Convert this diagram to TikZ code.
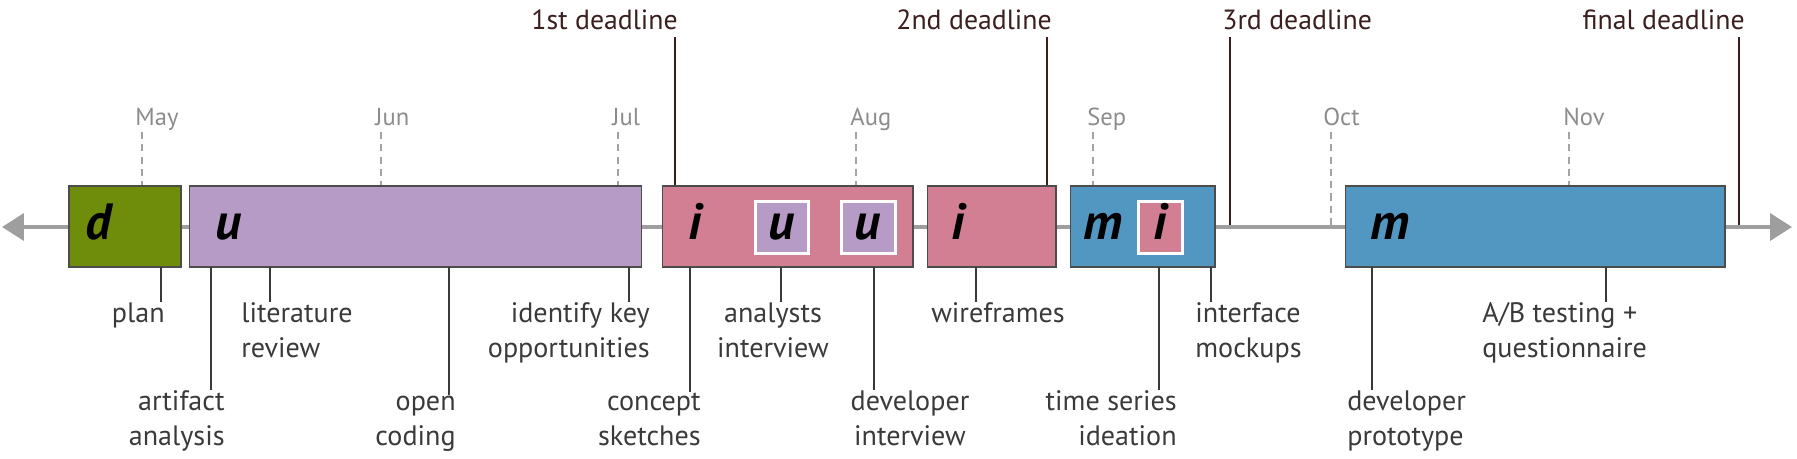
\documentclass[tikz,border=0pt]{standalone}
\usepackage{fontspec}
\setmainfont{PT Sans}
\usepackage{xcolor}
\usetikzlibrary{positioning, arrows.meta}

\definecolor{plangreen}{HTML}{6F8C0A}
\definecolor{understandpurple}{HTML}{B59BC6}
\definecolor{ideatepink}{HTML}{D27E93}
\definecolor{makeblue}{HTML}{5297C2}
\definecolor{deadlinebrown}{HTML}{3B1F1F}
\definecolor{axisgray}{HTML}{9E9E9E}
\definecolor{monthgray}{HTML}{8C8C8C}
\definecolor{labelgray}{HTML}{3A3A3A}

\begin{document}
\begin{tikzpicture}[
			x=0.02cm, y=-0.02cm,
			phase/.style={rectangle, draw=black!70, line width=0.6pt, minimum height=1.62cm, inner sep=0pt},
			subphase/.style={rectangle, draw=white, line width=1.7pt, minimum height=1.04cm, inner sep=0pt},
			letter/.style={font=\fontsize{29}{30}\selectfont\bfseries\itshape, anchor=base, inner sep=0pt},
			month/.style={font=\fontsize{14}{17}\selectfont, text=monthgray, anchor=base west, inner sep=0pt},
			monthtick/.style={draw=monthgray!80, line width=1.3pt, dash pattern=on 4pt off 3pt},
			deadline/.style={font=\fontsize{15.8}{18}\selectfont, text=deadlinebrown, inner sep=0pt},
			deadlineline/.style={draw=deadlinebrown, line width=1.5pt},
			timeaxis/.style={draw=axisgray, line width=2.2pt, {Triangle[length=0.44cm, width=0.54cm]}-{Triangle[length=0.44cm, width=0.54cm]}},
			tasklabel/.style={font=\fontsize{16}{19.8}\selectfont, text=labelgray, inner sep=0pt},
			leader/.style={draw=labelgray, line width=0.9pt}
			]
			\useasboundingbox (0,0) rectangle (1797,459);

			% Months
			\node (may) [month] at (135,126) {May};
			\node (jun) [month] at (375,126) {Jun};
			\node (jul) [month] at (612,126) {Jul};
			\node (aug) [month] at (850,126) {Aug};
			\node (sep) [month] at (1087,126) {Sep};
			\node (oct) [month] at (1323,126) {Oct};
			\node (nov) [month] at (1563,126) {Nov};
			\draw [monthtick] (142,132) -- (142,227);
			\draw [monthtick] (381,132) -- (381,227);
			\draw [monthtick] (618,132) -- (618,227);
			\draw [monthtick] (856,132) -- (856,227);
			\draw [monthtick] (1093,132) -- (1093,227);
			\draw [monthtick] (1331,132) -- (1331,227);
			\draw [monthtick] (1569,132) -- (1569,227);

			% Deadlines
			\node (dl1) [deadline, anchor=base east] at (678,30) {1st deadline};
			\node (dl2) [deadline, anchor=base east] at (1052,30) {2nd deadline};
			\node (dl3) [deadline, anchor=base west] at (1222,30) {3rd deadline};
			\node (dl4) [deadline, anchor=base east] at (1745,30) {final deadline};
			\draw [deadlineline] (675,37) -- (675,227);
			\draw [deadlineline] (1047,37) -- (1047,227);
			\draw [deadlineline] (1230,37) -- (1230,227);
			\draw [deadlineline] (1739,37) -- (1739,227);

			% Axis
			\coordinate (past) at (2,227);
			\coordinate (future) at (1792,227);
			\draw [timeaxis] (past) -- (future);

			% Phases
			\node (dbox) [phase, fill=plangreen, minimum width=2.24cm] at (125,226.5) {};
			\node (ubox) [phase, fill=understandpurple, minimum width=9.06cm] at (415.5,226.5) {};
			\node (ibox) [phase, fill=ideatepink, minimum width=5.02cm] at (787.5,226.5) {};
			\node (iboxb) [phase, fill=ideatepink, minimum width=2.58cm] at (991.5,226.5) {};
			\node (mbox) [phase, fill=makeblue, minimum width=2.9cm] at (1142.5,226.5) {};
			\node (mboxb) [phase, fill=makeblue, minimum width=7.6cm] at (1535,226.5) {};
			\node (usuba) [subphase, fill=understandpurple, minimum width=1.06cm] at (782,227.5) {};
			\node (usubb) [subphase, fill=understandpurple, minimum width=1.08cm] at (868,227.5) {};
			\node (isub) [subphase, fill=ideatepink, minimum width=0.88cm] at (1160,227.5) {};

			\node (dl) [letter] at (98,239) {d};
			\node (ul) [letter] at (229,239) {u};
			\node (il) [letter] at (695,239) {i};
			\node (ula) [letter] at (usuba |- 0,239) {u};
			\node (ulb) [letter] at (usubb |- 0,239) {u};
			\node (ilb) [letter] at (958,239) {i};
			\node (ml) [letter] at (1103,239) {m};
			\node (ilc) [letter] at (isub |- 0,239) {i};
			\node (mlb) [letter] at (1390,239) {m};

			% Labels (multi-line ones sit on their last line)
			\node (plan) [tasklabel, anchor=base east] at (165,322) {plan};
			\node (litrev) [tasklabel, anchor=base west, align=left] at (241,357) {literature\\review};
			\node (keyopp) [tasklabel, anchor=base east, align=right] at (650,357) {identify key\\opportunities};
			\node (anaint) [tasklabel, anchor=base, align=center] at (773,357) {analysts\\interview};
			\node (wire) [tasklabel, anchor=base] at (998,322) {wireframes};
			\node (mock) [tasklabel, anchor=base west, align=left] at (1195,357) {interface\\mockups};
			\node (abtest) [tasklabel, anchor=base west, align=left] at (1482,357) {A/B testing +\\questionnaire};
			\node (artif) [tasklabel, anchor=base east, align=right] at (225,445) {artifact\\analysis};
			\node (coding) [tasklabel, anchor=base east, align=right] at (456,445) {open\\coding};
			\node (sketch) [tasklabel, anchor=base east, align=right] at (701,445) {concept\\sketches};
			\node (devint) [tasklabel, anchor=base, align=center] at (910,445) {developer\\interview};
			\node (tsidea) [tasklabel, anchor=base east, align=right] at (1177,445) {time series\\ideation};
			\node (proto) [tasklabel, anchor=base west, align=left] at (1347,445) {developer\\prototype};

			% Leaders
			\coordinate (planpt) at (161,267);
			\coordinate (artifpt) at (211,267);
			\coordinate (litrevpt) at (270,267);
			\coordinate (codingpt) at (449,267);
			\coordinate (keyopppt) at (629,267);
			\coordinate (sketchpt) at (690,267);
			\coordinate (anaintpt) at (781,267);
			\coordinate (devintpt) at (874,267);
			\coordinate (wirept) at (976,267);
			\coordinate (tsideapt) at (1159,267);
			\coordinate (mockpt) at (1211,267);
			\coordinate (protopt) at (1372,267);
			\coordinate (abtestpt) at (1606,267);
			\draw [leader] (planpt) -- (planpt |- plan.north);
			\draw [leader] (artifpt) -- (artifpt |- artif.north);
			\draw [leader] (litrevpt) -- (litrevpt |- litrev.north);
			\draw [leader] (codingpt) -- (codingpt |- coding.north);
			\draw [leader] (keyopppt) -- (keyopppt |- keyopp.north);
			\draw [leader] (sketchpt) -- (sketchpt |- sketch.north);
			\draw [leader] (anaintpt) -- (anaintpt |- anaint.north);
			\draw [leader] (devintpt) -- (devintpt |- devint.north);
			\draw [leader] (wirept) -- (wirept |- wire.north);
			\draw [leader] (tsideapt) -- (tsideapt |- tsidea.north);
			\draw [leader] (mockpt) -- (mockpt |- mock.north);
			\draw [leader] (protopt) -- (protopt |- proto.north);
			\draw [leader] (abtestpt) -- (abtestpt |- abtest.north);
		\end{tikzpicture}
\end{document}
